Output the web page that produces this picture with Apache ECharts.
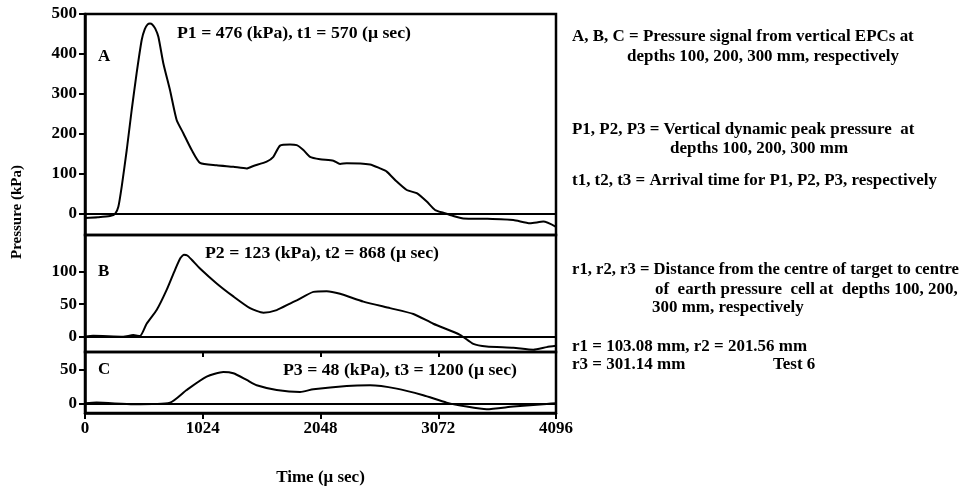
<!DOCTYPE html>
<html><head><meta charset="utf-8">
<script src="https://cdn.jsdelivr.net/npm/echarts@6/dist/echarts.min.js"></script>
<style>html,body{margin:0;padding:0;background:#fff}#c{width:968px;height:489px}</style>
</head><body><div id="c"></div>
<script>
// Time (µs) and pressure (kPa) for the three earth-pressure cells
const timeA = [0,110,217,261,290,319,363,406,449,493,520,545,565,585,610,638,681,739,797,855,928,1000,1145,1290,1406,1464,1580,1638,1696,1783,1841,1899,1957,2044,2160,2218,2276,2479,2566,2624,2711,2798,2885,2972,3044,3116,3203,3290,3493,3725,3870,3986,4096];
const pressA = [-10,-8,-5,0,18,68,160,260,352,435,462,474,476,474,464,443,377,310,235,202,160,128,122,118,114,120,131,143,171,174,172,160,143,137,133,125,127,124,114,106,81,60,52,31,10,3,-5,-11,-12,-15,-23,-19,-32];
const timeB = [0,70,333,420,478,536,623,710,783,830,860,890,930,1000,1145,1290,1435,1551,1667,1783,1841,1986,2102,2218,2421,2653,2856,3029,3261,3377,3493,3725,3899,4015,4096];
const pressB = [0,1.5,0,2.6,1,20,41,72,103,121,126,125,118,105,82,62,44,37,41,51,56,69,70,66,54,44,35,20,3,-11,-15,-17,-20,-16,-14];
const timeC = [0,100,420,739,884,1058,1203,1290,1406,1493,1667,1870,1986,2276,2479,2711,2942,3145,3319,3493,3725,4015,4096];
const pressC = [0,1,-1.5,1,20,40,47,45,35,27,20,17,21,26,27,22,12,1,-5,-9,-5,-1,0];
const xTicks = [0,1024,2048,3072,4096];
const yTicksA = [0,100,200,300,400,500];
const yTicksB = [0,50,100];
const yTicksC = [0,50];

const FONT = '"Liberation Serif","Times New Roman",serif';
const zip = (t, p) => t.map((v, i) => [v, p[i]]);
const chart = echarts.init(document.getElementById('c'), null, {renderer: 'canvas'});

const grids = [
  {left: 85, right: 412, top: 14, height: 221},
  {left: 85, right: 412, top: 235, height: 117},
  {left: 85, right: 412, top: 352, height: 61}
].map(g => Object.assign(g, {show: true, borderColor: '#000', borderWidth: 2.5, containLabel: false}));

const labelStyle = {color: '#000', fontFamily: FONT, fontWeight: 'bold', fontSize: 17};

function yAx(idx, min, max, ticks) {
  return {
    type: 'value', gridIndex: idx, min: min, max: max,
    splitLine: {show: false},
    axisLine: {show: true, lineStyle: {color: '#000', width: 2.5}},
    axisTick: {show: true, length: 6, customValues: ticks, lineStyle: {color: '#000', width: 2}},
    axisLabel: Object.assign({customValues: ticks, margin: 8, formatter: v => String(v)}, labelStyle)
  };
}
function hiddenX(idx) {
  return {type: 'value', gridIndex: idx, min: 0, max: 4096, show: false, splitLine: {show: false}};
}
const zeroLine = {
  silent: true, symbol: 'none', label: {show: false},
  lineStyle: {color: '#000', width: 2, type: 'solid'},
  data: [{yAxis: 0}]
};
function series(idx, t, p) {
  return {
    type: 'line', xAxisIndex: idx, yAxisIndex: idx,
    data: zip(t, p), showSymbol: false, smooth: 0.2,
    lineStyle: {color: '#000', width: 2}, z: 3,
    markLine: zeroLine
  };
}

function txt(x, y, s, sx) {
  return {type: 'text', x: x, y: y, silent: true, scaleX: sx || 1.06,
    style: {text: s, fill: '#000', font: 'bold 16px ' + FONT,
      textAlign: 'left', align: 'left', textVerticalAlign: 'middle', verticalAlign: 'middle'}};
}

chart.setOption({
  animation: false,
  backgroundColor: '#fff',
  grid: grids,
  xAxis: [
    hiddenX(0), hiddenX(1),
    {type: 'value', gridIndex: 2, min: 0, max: 4096, interval: 1024, position: 'bottom',
      splitLine: {show: false},
      axisLine: {show: true, onZero: false, lineStyle: {color: '#000', width: 2.5}},
      axisTick: {show: true, length: 6, customValues: xTicks, lineStyle: {color: '#000', width: 2}},
      axisLabel: Object.assign({margin: 7, customValues: xTicks, formatter: v => String(v)}, labelStyle),
      name: 'Time (\u03bc sec)', nameLocation: 'middle', nameGap: 56,
      nameTextStyle: {color: '#000', fontFamily: FONT, fontWeight: 'bold', fontSize: 17}},
    {type: 'value', gridIndex: 2, min: 0, max: 4096, interval: 1024, position: 'top',
      splitLine: {show: false},
      axisLine: {show: false, onZero: false},
      axisTick: {show: true, inside: true, length: 5, lineStyle: {color: '#000', width: 2}},
      axisLabel: {show: false}}
  ],
  yAxis: [
    yAx(0, -52.5, 500, yTicksA),
    yAx(1, -23.5, 156.5, yTicksB),
    yAx(2, -14.6, 77, yTicksC)
  ],
  series: [series(0, timeA, pressA), series(1, timeB, pressB), series(2, timeC, pressC)],
  graphic: [
    {type: 'text', x: 17, y: 212, rotation: Math.PI / 2, silent: true,
      style: {text: 'Pressure (kPa)', fill: '#000', font: 'bold 15px ' + FONT,
        textAlign: 'center', align: 'center', textVerticalAlign: 'middle', verticalAlign: 'middle'}},
    txt(98, 57, 'A'),
    txt(98, 272, 'B'),
    txt(98, 370, 'C'),
    txt(177, 34, 'P1 = 476 (kPa), t1 = 570 (\u03bc sec)', 1.11),
    txt(205, 254, 'P2 = 123 (kPa), t2 = 868 (\u03bc sec)', 1.11),
    txt(283, 371, 'P3 = 48 (kPa), t3 = 1200 (\u03bc sec)', 1.11),
    txt(572, 37, 'A, B, C = Pressure signal from vertical EPCs at'),
    txt(627, 57, 'depths 100, 200, 300 mm, respectively'),
    txt(572, 130, 'P1, P2, P3 = Vertical dynamic peak pressure  at'),
    txt(670, 149, 'depths 100, 200, 300 mm'),
    txt(572, 181, 't1, t2, t3 = Arrival time for P1, P2, P3, respectively'),
    txt(572, 270, 'r1, r2, r3 = Distance from the centre of target to centre', 1.04),
    txt(655, 290, 'of  earth pressure  cell at  depths 100, 200,'),
    txt(652, 308, '300 mm, respectively'),
    txt(572, 347, 'r1 = 103.08 mm, r2 = 201.56 mm'),
    txt(572, 365, 'r3 = 301.14 mm'),
    txt(773, 365, 'Test 6')
  ]
});
</script></body></html>
